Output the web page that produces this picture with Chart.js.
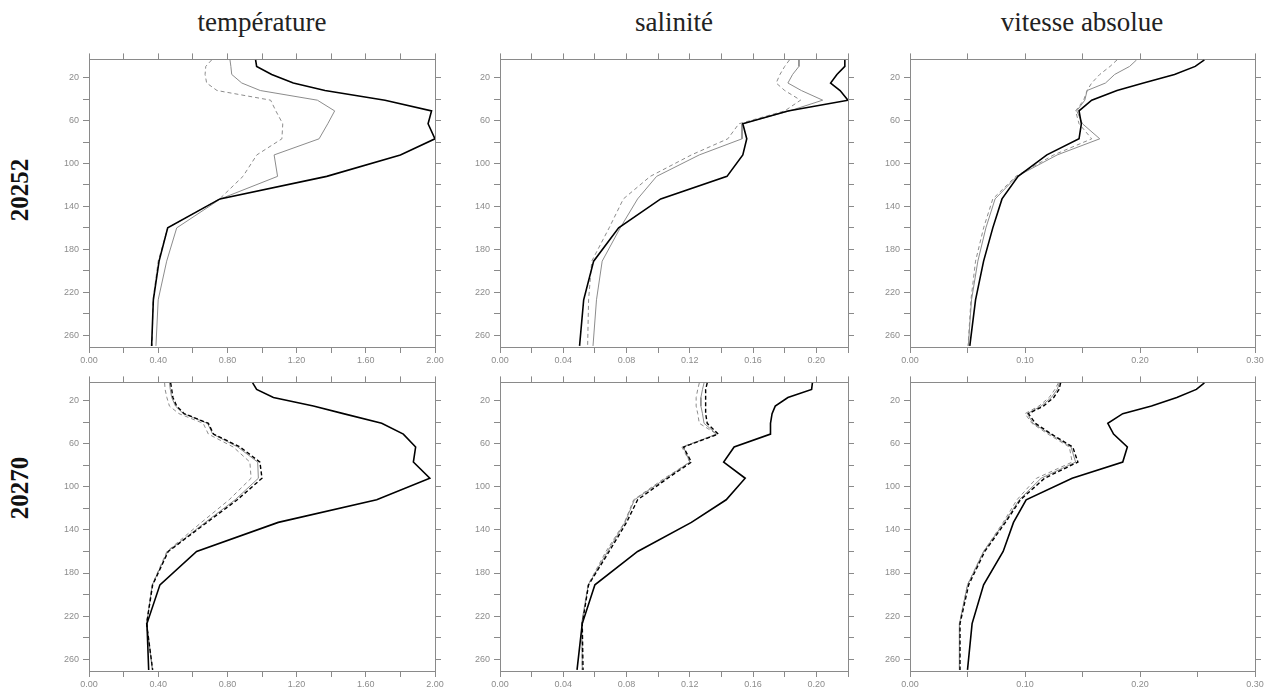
<!DOCTYPE html>
<html>
<head>
<meta charset="utf-8">
<script src="https://cdn.jsdelivr.net/npm/chart.js@4.4.1/dist/chart.umd.min.js"></script>
<style>
  body { margin: 0; background: #fff; width: 1277px; height: 691px; position: relative; overflow: hidden; }
  canvas { position: absolute; }
  .col-title { position: absolute; width: 300px; text-align: center; font-family: "Liberation Serif", serif; font-size: 27px; line-height: 30px; color: #222; }
  .row-title { position: absolute; width: 100px; height: 30px; line-height: 30px; text-align: center; font-family: "Liberation Serif", serif; font-weight: bold; font-size: 25px; color: #111; transform: rotate(-90deg); }
</style>
</head>
<body>
<div class="col-title" style="left:112px; top:7px;">température</div>
<div class="col-title" style="left:524px; top:7px;">salinité</div>
<div class="col-title" style="left:932px; top:7px;">vitesse absolue</div>
<div class="row-title" style="left:-30px; top:175px;">20252</div>
<div class="row-title" style="left:-30px; top:473px;">20270</div>

<canvas id="t1"></canvas>
<canvas id="s1"></canvas>
<canvas id="v1"></canvas>
<canvas id="t2"></canvas>
<canvas id="s2"></canvas>
<canvas id="v2"></canvas>

<script>
// depth levels (m), shared by every profile
var depth = [3.5, 9.5, 17, 25, 32, 41, 51, 63, 77, 92, 112, 133, 160, 191, 227, 270];
var depthTicks = [20, 40, 60, 80, 100, 120, 140, 160, 180, 200, 220, 240, 260];
var depthLabels = [20, 60, 100, 140, 180, 220, 260];

var tempTicks = [0, 0.2, 0.4, 0.6, 0.8, 1.0, 1.2, 1.4, 1.6, 1.8, 2.0];
var tempLabels = [0, 0.4, 0.8, 1.2, 1.6, 2.0];
var salTicks = [0, 0.02, 0.04, 0.06, 0.08, 0.10, 0.12, 0.14, 0.16, 0.18, 0.20, 0.22];
var salLabels = [0, 0.04, 0.08, 0.12, 0.16, 0.20];
var velTicks = [0, 0.05, 0.10, 0.15, 0.20, 0.25, 0.30];
var velLabels = [0, 0.10, 0.20, 0.30];

// 20252
var temp20252Black = [0.963, 0.969, 1.056, 1.181, 1.364, 1.711, 1.98, 1.96, 2.0, 1.80, 1.374, 0.757, 0.455, 0.405, 0.372, 0.362];
var temp20252Gray = [0.815, 0.82, 0.825, 0.883, 0.99, 1.32, 1.42, 1.38, 1.33, 1.07, 1.09, 0.76, 0.507, 0.449, 0.40, 0.387];
var temp20252Dash = [0.709, 0.675, 0.671, 0.68, 0.74, 1.05, 1.08, 1.12, 1.115, 0.97, 0.89, 0.755, 0.455, 0.40, 0.37, 0.365];

var sal20252Black = [0.218, 0.218, 0.213, 0.209, 0.215, 0.220, 0.182, 0.1535, 0.156, 0.1535, 0.1435, 0.1016, 0.075, 0.0592, 0.0529, 0.0503];
var sal20252Gray = [0.189, 0.189, 0.185, 0.182, 0.1905, 0.204, 0.183, 0.153, 0.153, 0.126, 0.099, 0.087, 0.076, 0.0646, 0.061, 0.0588];
var sal20252Dash = [0.183, 0.18, 0.177, 0.1746, 0.18, 0.19, 0.18, 0.151, 0.144, 0.121, 0.095, 0.078, 0.069, 0.058, 0.056, 0.0554];

var vel20252Black = [0.256, 0.248, 0.230, 0.203, 0.18, 0.158, 0.147, 0.149, 0.147, 0.119, 0.094, 0.08, 0.072, 0.064, 0.057, 0.052];
var vel20252Gray = [0.197, 0.191, 0.178, 0.17, 0.154, 0.152, 0.145, 0.15, 0.165, 0.128, 0.093, 0.074, 0.066, 0.059, 0.0535, 0.0507];
var vel20252Dash = [0.18, 0.174, 0.165, 0.158, 0.154, 0.151, 0.144, 0.147, 0.158, 0.125, 0.092, 0.072, 0.064, 0.057, 0.053, 0.0505];

// 20270
var temp20270Black = [0.946, 0.969, 1.066, 1.297, 1.47, 1.692, 1.817, 1.888, 1.875, 1.97, 1.663, 1.094, 0.622, 0.41, 0.335, 0.345];
var temp20270BlackDash = [0.472, 0.478, 0.485, 0.507, 0.55, 0.69, 0.72, 0.873, 0.988, 1.0, 0.857, 0.682, 0.458, 0.368, 0.333, 0.368];
var temp20270Gray = [0.465, 0.47, 0.478, 0.50, 0.545, 0.685, 0.715, 0.86, 0.975, 0.979, 0.845, 0.672, 0.455, 0.366, 0.333, 0.366];
var temp20270Dash = [0.437, 0.44, 0.45, 0.465, 0.52, 0.66, 0.69, 0.834, 0.93, 0.937, 0.81, 0.65, 0.45, 0.365, 0.333, 0.368];

var sal20270Black = [0.1975, 0.197, 0.182, 0.174, 0.172, 0.171, 0.171, 0.148, 0.1414, 0.155, 0.143, 0.121, 0.087, 0.060, 0.052, 0.0487];
var sal20270BlackDash = [0.131, 0.130, 0.130, 0.130, 0.130, 0.131, 0.138, 0.116, 0.121, 0.106, 0.087, 0.080, 0.069, 0.056, 0.052, 0.0525];
var sal20270Gray = [0.129, 0.128, 0.127, 0.127, 0.128, 0.129, 0.137, 0.116, 0.120, 0.105, 0.085, 0.079, 0.068, 0.0558, 0.0518, 0.052];
var sal20270Dash = [0.126, 0.125, 0.124, 0.124, 0.125, 0.126, 0.137, 0.115, 0.120, 0.104, 0.0845, 0.0787, 0.067, 0.0556, 0.0516, 0.0519];

var vel20270Black = [0.256, 0.249, 0.232, 0.21, 0.185, 0.172, 0.177, 0.189, 0.185, 0.141, 0.101, 0.090, 0.081, 0.064, 0.054, 0.050];
var vel20270BlackDash = [0.131, 0.1296, 0.125, 0.116, 0.103, 0.109, 0.123, 0.1415, 0.146, 0.117, 0.096, 0.083, 0.065, 0.051, 0.0435, 0.0435];
var vel20270Gray = [0.130, 0.128, 0.123, 0.114, 0.102, 0.107, 0.122, 0.140, 0.144, 0.114, 0.095, 0.082, 0.064, 0.050, 0.043, 0.043];
var vel20270Dash = [0.129, 0.126, 0.121, 0.112, 0.100, 0.106, 0.120, 0.1386, 0.141, 0.110, 0.093, 0.081, 0.064, 0.050, 0.043, 0.043];

(function () {
  "use strict";

  var AXIS = '#8a8a8a';
  var LEFT = 44, RIGHT = 14, TOP = 8, BOTTOM = 22;

  var styles = {
    black: { borderColor: '#000', borderWidth: 1.6, borderDash: [] },
    blackDash: { borderColor: '#000', borderWidth: 1.4, borderDash: [4, 2.5] },
    gray: { borderColor: '#8c8c8c', borderWidth: 1, borderDash: [] },
    dash: { borderColor: '#8c8c8c', borderWidth: 1, borderDash: [4, 3] }
  };

  function setTicks(list) {
    return function (axis) {
      axis.ticks = list.map(function (v) { return { value: v }; });
    };
  }

  function labelOnly(labels, digits) {
    return function (value) {
      var hit = labels.some(function (l) { return Math.abs(l - value) < 1e-9; });
      if (!hit) return '';
      return digits ? value.toFixed(digits) : String(value);
    };
  }

  function fixSize(prop, size) {
    return function (axis) { axis[prop] = size; };
  }

  function edgeAxis(position, ticks, min, max, opts) {
    var horizontal = position === 'top' || position === 'bottom';
    return Object.assign({
      type: 'linear',
      position: position,
      min: min,
      max: max,
      afterBuildTicks: setTicks(ticks),
      afterFit: horizontal ? fixSize('height', position === 'top' ? TOP : BOTTOM) : fixSize('width', position === 'left' ? LEFT : RIGHT),
      grid: { drawOnChartArea: false, drawTicks: true, tickLength: 6, color: AXIS, lineWidth: 1 },
      border: { display: true, color: AXIS, width: 1 },
      ticks: { display: false }
    }, opts || {});
  }

  function makePanel(id, box, xTicks, xLabels, xMax, series) {
    var canvas = document.getElementById(id);
    var w = box.r - box.l, h = box.b - box.t;
    canvas.width = w + LEFT + RIGHT;
    canvas.height = h + TOP + BOTTOM;
    canvas.style.left = (box.l - LEFT) + 'px';
    canvas.style.top = (box.t - TOP) + 'px';

    var tickFont = { family: '"Liberation Sans", Arial, sans-serif', size: 9 };

    var datasets = series.map(function (s) {
      var st = styles[s.style];
      return {
        data: s.values.map(function (v, i) { return { x: v, y: depth[i] }; }),
        borderColor: st.borderColor,
        borderWidth: st.borderWidth,
        borderDash: st.borderDash,
        pointRadius: 0,
        fill: false,
        tension: 0,
        xAxisID: 'x',
        yAxisID: 'y'
      };
    });

    return new Chart(canvas.getContext('2d'), {
      type: 'line',
      data: { datasets: datasets },
      options: {
        responsive: false,
        animation: false,
        layout: { padding: 0 },
        plugins: { legend: { display: false }, tooltip: { enabled: false } },
        scales: {
          x: edgeAxis('bottom', xTicks, 0, xMax, {
            ticks: { display: true, autoSkip: false, maxRotation: 0, padding: 2, color: '#8c8c8c', font: tickFont, callback: labelOnly(xLabels, 2) }
          }),
          x2: edgeAxis('top', xTicks, 0, xMax),
          y: edgeAxis('left', depthTicks, 3, 271, {
            reverse: true,
            ticks: { display: true, autoSkip: false, padding: 4, color: '#8c8c8c', font: tickFont, callback: labelOnly(depthLabels, 0) }
          }),
          y2: edgeAxis('right', depthTicks, 3, 271, { reverse: true })
        }
      }
    });
  }

  var cols = [{ l: 89, r: 435 }, { l: 500, r: 848 }, { l: 910, r: 1255 }];
  var rows = [{ t: 58, b: 347 }, { t: 381, b: 671 }];
  function box(c, r) { return { l: cols[c].l, r: cols[c].r, t: rows[r].t, b: rows[r].b }; }

  makePanel('t1', box(0, 0), tempTicks, tempLabels, 2.0, [
    { values: temp20252Black, style: 'black' },
    { values: temp20252Gray, style: 'gray' },
    { values: temp20252Dash, style: 'dash' }
  ]);
  makePanel('s1', box(1, 0), salTicks, salLabels, 0.22, [
    { values: sal20252Black, style: 'black' },
    { values: sal20252Gray, style: 'gray' },
    { values: sal20252Dash, style: 'dash' }
  ]);
  makePanel('v1', box(2, 0), velTicks, velLabels, 0.30, [
    { values: vel20252Black, style: 'black' },
    { values: vel20252Gray, style: 'gray' },
    { values: vel20252Dash, style: 'dash' }
  ]);
  makePanel('t2', box(0, 1), tempTicks, tempLabels, 2.0, [
    { values: temp20270Black, style: 'black' },
    { values: temp20270BlackDash, style: 'blackDash' },
    { values: temp20270Gray, style: 'gray' },
    { values: temp20270Dash, style: 'dash' }
  ]);
  makePanel('s2', box(1, 1), salTicks, salLabels, 0.22, [
    { values: sal20270Black, style: 'black' },
    { values: sal20270BlackDash, style: 'blackDash' },
    { values: sal20270Gray, style: 'gray' },
    { values: sal20270Dash, style: 'dash' }
  ]);
  makePanel('v2', box(2, 1), velTicks, velLabels, 0.30, [
    { values: vel20270Black, style: 'black' },
    { values: vel20270BlackDash, style: 'blackDash' },
    { values: vel20270Gray, style: 'gray' },
    { values: vel20270Dash, style: 'dash' }
  ]);
})();
</script>
</body>
</html>
